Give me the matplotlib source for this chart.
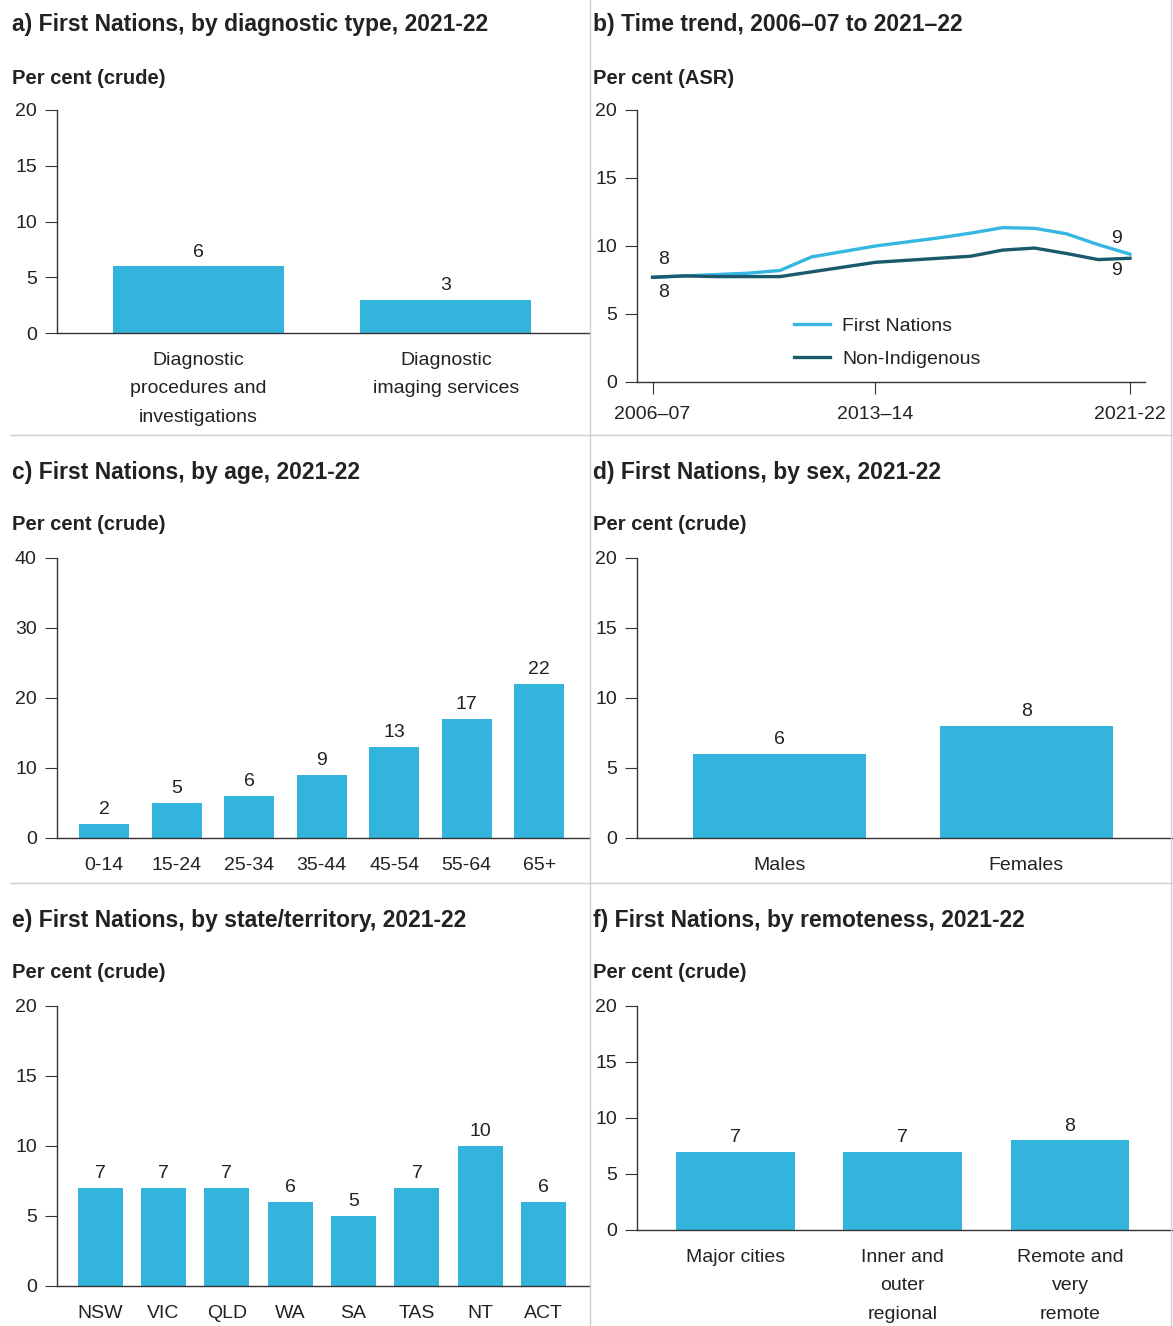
import matplotlib
matplotlib.use('Agg')
import matplotlib.pyplot as plt
import numpy as np

plt.rcParams['font.family'] = ['Liberation Sans', 'DejaVu Sans']

W, H = 1173, 1326
BAR = '#33b4dc'
LIGHT = '#36b6e2'
DARK = '#1b5a6c'
TXT = '#222222'
GRID = '#cfcfcf'
FS = 14

# a) diagnostic type
diag_labels = ['Diagnostic\nprocedures and\ninvestigations', 'Diagnostic\nimaging services']
diag_vals = [6, 3]

# b) time trend
years = ['2006–07', '2007–08', '2008–09', '2009–10', '2010–11', '2011–12', '2012–13', '2013–14',
         '2014–15', '2015–16', '2016–17', '2017–18', '2018–19', '2019–20', '2020–21', '2021-22']
first_nations = [7.7, 7.8, 7.9, 8.0, 8.2, 9.2, 9.6, 10.0, 10.3, 10.6, 10.95, 11.35, 11.3, 10.9, 10.1, 9.4]
non_indigenous = [7.7, 7.8, 7.75, 7.75, 7.75, 8.1, 8.45, 8.8, 8.95, 9.1, 9.25, 9.7, 9.85, 9.45, 9.0, 9.1]

# c) age
age_labels = ['0-14', '15-24', '25-34', '35-44', '45-54', '55-64', '65+']
age_vals = [2, 5, 6, 9, 13, 17, 22]

# d) sex
sex_labels = ['Males', 'Females']
sex_vals = [6, 8]

# e) state/territory
state_labels = ['NSW', 'VIC', 'QLD', 'WA', 'SA', 'TAS', 'NT', 'ACT']
state_vals = [7, 7, 7, 6, 5, 7, 10, 6]

# f) remoteness
remote_labels = ['Major cities', 'Inner and\nouter\nregional', 'Remote and\nvery\nremote']
remote_vals = [7, 7, 8]


fig = plt.figure(figsize=(W / 100, H / 100), dpi=100)
fig.patch.set_facecolor('white')


def add_ax(left, right, top, bottom):
    return fig.add_axes([left / W, 1 - bottom / H, (right - left) / W, (bottom - top) / H])


def style(ax, ymax, step):
    ax.spines['top'].set_visible(False)
    ax.spines['right'].set_visible(False)
    for s in ['left', 'bottom']:
        ax.spines[s].set_color('#333333')
        ax.spines[s].set_linewidth(1.0)
    ax.set_ylim(0, ymax)
    ax.set_yticks(np.arange(0, ymax + 1, step))
    ax.tick_params(axis='y', length=8.5, width=0.8, color='#333333', pad=6,
                   labelsize=FS, labelcolor=TXT)
    ax.tick_params(axis='x', length=0, pad=14, labelsize=FS, labelcolor=TXT)


def bar_panel(ax, labels, vals, ymax, step, xlim, width):
    style(ax, ymax, step)
    x = np.arange(len(vals))
    ax.bar(x, vals, width=width, color=BAR)
    for xi, v in zip(x, vals):
        ax.annotate(str(v), (xi, v), xytext=(0, 4), textcoords='offset points',
                    ha='center', va='bottom', fontsize=FS, color=TXT)
    ax.set_xlim(*xlim)
    ax.set_xticks(x)
    ax.set_xticklabels(labels, linespacing=1.85)


def heading(x, y, title, ylabel):
    fig.text(x / W, 1 - y / H, title, fontsize=16.5, fontweight='bold', color=TXT,
             va='center', ha='left')
    fig.text(x / W, 1 - (y + 53) / H, ylabel, fontsize=14.5, fontweight='bold', color=TXT,
             va='center', ha='left')


# separators
for yy in [435, 883]:
    fig.add_artist(plt.Line2D([10 / W, 1172 / W], [1 - yy / H, 1 - yy / H], color=GRID, lw=1))
for xx in [590, 1171]:
    fig.add_artist(plt.Line2D([xx / W, xx / W], [0, 1], color=GRID, lw=1))

# a
heading(12, 25, 'a) First Nations, by diagnostic type, 2021-22', 'Per cent (crude)')
ax = add_ax(57, 590, 110, 333)
bar_panel(ax, diag_labels, diag_vals, 20, 5, (-0.569, 1.581), 0.69)

# b
heading(593, 25, 'b) Time trend, 2006–07 to 2021–22', 'Per cent (ASR)')
ax = add_ax(637, 1145, 110, 382)
style(ax, 20, 5)
x = np.arange(len(years))
ax.plot(x, first_nations, color=LIGHT, lw=2.4, label='First Nations')
ax.plot(x, non_indigenous, color=DARK, lw=2.4, label='Non-Indigenous')
ax.set_xlim(-0.49, 15.47)
ax.set_xticks([0, 7, 15])
ax.set_xticklabels([years[0], years[7], years[15]])
ax.tick_params(axis='x', length=8.5, width=0.8, color='#333333', pad=9)
ax.annotate(f'{first_nations[0]:.0f}', (0, first_nations[0]), xytext=(8, 7),
            textcoords='offset points', ha='center', va='bottom', fontsize=FS, color=TXT)
ax.annotate(f'{non_indigenous[0]:.0f}', (0, non_indigenous[0]), xytext=(8, -5),
            textcoords='offset points', ha='center', va='top', fontsize=FS, color=TXT)
ax.annotate(f'{first_nations[-1]:.0f}', (15, first_nations[-1]), xytext=(-10, 5),
            textcoords='offset points', ha='center', va='bottom', fontsize=FS, color=TXT)
ax.annotate(f'{non_indigenous[-1]:.0f}', (15, non_indigenous[-1]), xytext=(-10, -3),
            textcoords='offset points', ha='center', va='top', fontsize=FS, color=TXT)
leg = ax.legend(loc='center left', bbox_to_anchor=(0.31, 0.145), frameon=False, fontsize=FS,
                handlelength=1.85, handletextpad=0.6, labelspacing=0.78,
                borderpad=0, borderaxespad=0)
for t in leg.get_texts():
    t.set_color(TXT)

# c
heading(12, 472, 'c) First Nations, by age, 2021-22', 'Per cent (crude)')
ax = add_ax(57, 590, 558, 838)
bar_panel(ax, age_labels, age_vals, 40, 10, (-0.65, 6.70), 0.69)

# d
heading(593, 472, 'd) First Nations, by sex, 2021-22', 'Per cent (crude)')
ax = add_ax(637, 1172, 558, 838)
bar_panel(ax, sex_labels, sex_vals, 20, 5, (-0.575, 1.59), 0.70)

# e
heading(12, 920, 'e) First Nations, by state/territory, 2021-22', 'Per cent (crude)')
ax = add_ax(57, 590, 1006, 1286)
bar_panel(ax, state_labels, state_vals, 20, 5, (-0.68, 7.73), 0.71)

# f
heading(593, 920, 'f) First Nations, by remoteness, 2021-22', 'Per cent (crude)')
ax = add_ax(637, 1172, 1006, 1230)
bar_panel(ax, remote_labels, remote_vals, 20, 5, (-0.59, 2.61), 0.71)

fig.savefig('out.png', dpi=100, facecolor='white')
